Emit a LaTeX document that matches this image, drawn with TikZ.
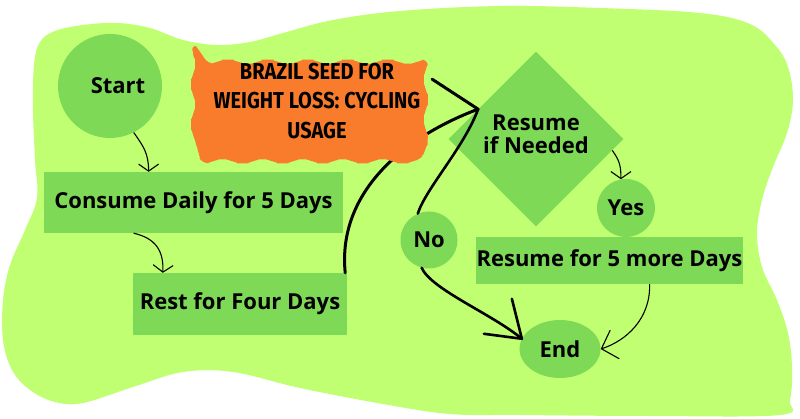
\documentclass[tikz,border=0pt]{standalone}
\usepackage{fontspec}
\usetikzlibrary{shapes.geometric,arrows.meta,decorations.pathmorphing,calc}
\newfontfamily\lblfont{Open Sans}
\newfontfamily\ttlfont{Fira Sans}
\definecolor{blobgreen}{HTML}{C1FF72}
\definecolor{nodegreen}{HTML}{7ED957}
\definecolor{ttlorange}{HTML}{F97B2C}
\tikzset{
 lbl/.style={font=\lblfont\bfseries\fontsize{22}{23}\selectfont, text=black},
 boxnode/.style={lbl, rectangle, fill=nodegreen, inner sep=0pt},
 circnode/.style={lbl, circle, fill=nodegreen, inner sep=0pt},
 thinarrow/.style={line width=1.1pt, -{Straight Barb[length=7pt,width=20pt]}},
 bigthin/.style={line width=1.1pt, -{Straight Barb[length=14pt,width=30pt]}},
 thickline/.style={line width=3pt, line cap=round},
 midline/.style={line width=2.6pt, line cap=round},
 ttl/.style={font=\ttlfont\bfseries\fontsize{23}{29.5}\selectfont, align=center, text=black},
}
\newcommand{\ttlline}[1]{\scalebox{0.87}[1]{#1}}
\begin{document}
\begin{tikzpicture}[x=1pt,y=-1pt]
\useasboundingbox (0,0) rectangle (800,419);
\fill[white] (0,0) rectangle (800,419);
% background blob
\fill[blobgreen] plot[smooth cycle, tension=0.6] coordinates {
 (40,42) (55,31) (83,25) (117,23) (150,28) (183,40) (217,45) (250,42) (283,33)
 (333,20) (400,11) (500,6) (600,8) (700,13) (750,24) (775,45) (788,67) (793,100)
 (787,133) (773,167) (762,200) (757,233) (762,267) (777,300) (788,333) (792,367)
 (790,400) (780,415) (650,416) (520,415) (450,414) (383,404) (300,388) (233,372)
 (183,372) (133,387) (83,403) (55,402) (30,390) (12,370) (3,340) (3,300) (10,265)
 (25,230) (37,198) (35,160) (33,110) (34,65)};
% nodes
\node[circnode, minimum size=104pt] (start) at (110,86) {\hspace*{16pt}Start};
\node[boxnode, minimum width=299pt, minimum height=61pt] (consume) at (193.5,202.5) {Consume Daily for 5 Days};
\node[boxnode, minimum width=214pt, minimum height=62pt] (rest) at (240,304) {Rest for Four Days};
\node[lbl, diamond, fill=nodegreen, minimum width=175pt, minimum height=175pt, inner sep=0pt, align=center, text depth=10pt] (dec) at (536,139) {Resume\\if Needed};
\node[circnode, minimum size=58pt] (yes) at (626,208) {Yes};
\node[boxnode, minimum width=267pt, minimum height=47pt] (resume) at (609.5,260.5) {Resume for 5 more Days};
\node[circnode, minimum size=57pt] (no) at (429,240) {No};
\node[lbl, ellipse, fill=nodegreen, minimum width=81pt, minimum height=58pt, inner sep=0pt] (end) at (560,349) {End};
\coordinate (tip) at ($(dec.west)!0.34!(dec.north)$);
% thick curve from Rest (passes behind title)
\draw[thickline] ($(rest.north east)+(-2,0)$) .. controls ($(rest.north east)+(-10,-80)$) and ($(tip)+(-75,28)$) .. (tip);
% title
\fill[ttlorange, rounded corners=6pt, decorate, decoration={snake, amplitude=2pt, segment length=40pt}] (193,46) rectangle (430,147);
\node[ttl] (title) at (317,101)
 {\ttlline{BRAZIL SEED FOR}\\\ttlline{WEIGHT LOSS: CYCLING}\\\ttlline{USAGE}};
% arrowhead arm
\draw[thickline] (tip) -- ++(-46,-30);
% No -> tip
\draw[midline] (no.113) .. controls ($(no.113)+(8,-25)$) and ($(tip)+(-14,38)$) .. (tip);
% No -> End
\draw[midline] (no.-105) .. controls ($(no.-105)+(10,22)$) and ($(end.165)+(-30,-25)$) .. (end.165);
\draw[midline] (end.165) -- ++(-10,-40);
\draw[midline] (end.165) -- ++(-38,-5);
% thin arrows
\draw[thinarrow] (start.-63) .. controls ($(start.-63)+(10,14)$) and ($($(consume.north west)!0.35!(consume.north east)$)+(0,-18)$) .. ($(consume.north west)!0.35!(consume.north east)$);
\draw[thinarrow] ($(consume.south west)!0.3!(consume.south east)$) .. controls ($($(consume.south west)!0.3!(consume.south east)$)+(22,5)$) and ($($(rest.north west)!0.14!(rest.north east)$)+(1,-22)$) .. ($(rest.north west)!0.14!(rest.north east)$);
\draw[thinarrow] ($(dec.east)!0.13!(dec.south)$) .. controls ($($(dec.east)!0.13!(dec.south)$)+(7,10)$) and ($(yes.100)+(0,-14)$) .. (yes.100);
\draw[bigthin] ($(resume.south west)!0.65!(resume.south east)$) .. controls ($($(resume.south west)!0.65!(resume.south east)$)+(1,35)$) and ($(end.east)+(25,-8)$) .. (end.east);
\end{tikzpicture}
\end{document}
